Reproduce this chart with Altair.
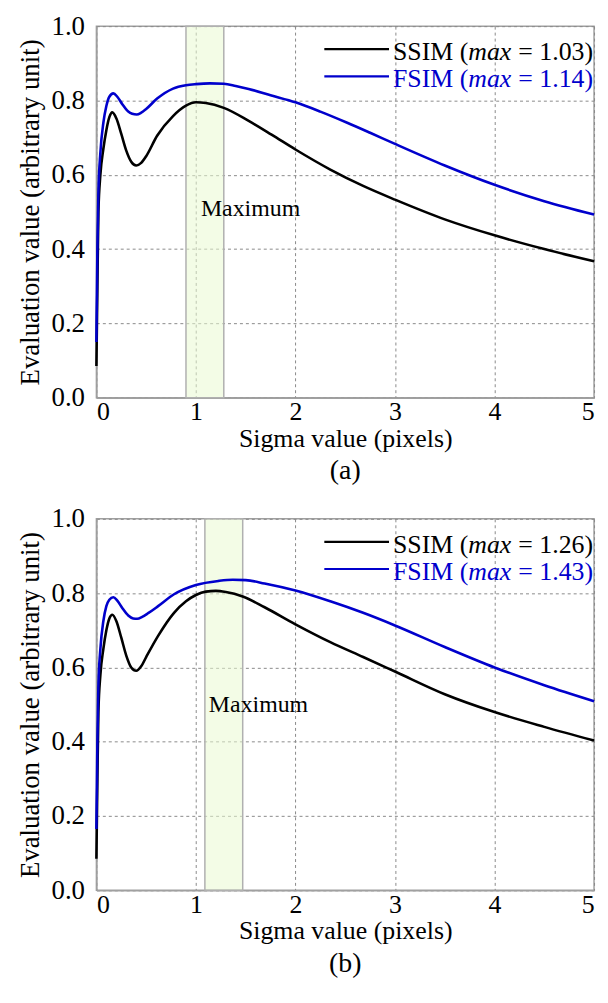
import altair as alt
import pandas as pd

FONT = "Liberation Serif"
BLUE = "#0000cc"

# ---------------- data ----------------
# Panel (a)
a_sigma_ssim = [0, 0.01, 0.02, 0.04, 0.07, 0.10, 0.13, 0.16, 0.20, 0.25, 0.30, 0.35, 0.40, 0.45, 0.50,
                0.61, 0.77, 0.90, 1.00, 1.10, 1.28, 1.53, 1.76, 2.00, 2.35, 2.68, 3.00, 3.50, 4.00, 4.50, 5.00]
a_ssim = [0.085, 0.30, 0.50, 0.60, 0.67, 0.72, 0.755, 0.768, 0.752, 0.71, 0.665, 0.635, 0.625, 0.632, 0.65,
          0.705, 0.758, 0.786, 0.795, 0.793, 0.780, 0.745, 0.708, 0.668, 0.614, 0.570, 0.533, 0.480, 0.437, 0.400, 0.367]
a_sigma_fsim = [0, 0.01, 0.02, 0.04, 0.07, 0.10, 0.13, 0.17, 0.21, 0.26, 0.32, 0.36, 0.405, 0.45, 0.50,
                0.61, 0.77, 0.90, 1.00, 1.14, 1.28, 1.40, 1.53, 1.75, 2.00, 2.25, 2.52, 2.75, 3.00, 3.50, 4.00, 4.50, 5.00]
a_fsim = [0.15, 0.40, 0.55, 0.66, 0.74, 0.785, 0.81, 0.819, 0.81, 0.79, 0.77, 0.764, 0.762, 0.767, 0.777,
          0.805, 0.832, 0.841, 0.844, 0.846, 0.845, 0.839, 0.831, 0.814, 0.795, 0.770, 0.740, 0.713, 0.683,
          0.625, 0.573, 0.529, 0.493]
a_band = [0.90, 1.28]
a_max_label = [1.05, 0.489]
a_legend = ["= 1.03)", "= 1.14)"]

# Panel (b)
b_sigma_ssim = [0, 0.01, 0.02, 0.04, 0.07, 0.10, 0.13, 0.16, 0.20, 0.25, 0.30, 0.35, 0.40, 0.45, 0.50,
                0.62, 0.78, 0.90, 1.00, 1.10, 1.20, 1.30, 1.47, 1.69, 2.00, 2.35, 2.68, 3.00, 3.50, 4.00, 4.50, 5.00]
b_ssim = [0.085, 0.30, 0.48, 0.58, 0.65, 0.70, 0.732, 0.742, 0.725, 0.68, 0.632, 0.600, 0.591, 0.603, 0.628,
          0.685, 0.747, 0.778, 0.795, 0.804, 0.806, 0.803, 0.791, 0.762, 0.716, 0.668, 0.628, 0.589, 0.528,
          0.480, 0.440, 0.403]
b_sigma_fsim = [0, 0.01, 0.02, 0.04, 0.07, 0.10, 0.13, 0.17, 0.21, 0.26, 0.32, 0.37, 0.41, 0.46, 0.52,
                0.62, 0.78, 1.00, 1.23, 1.37, 1.50, 1.69, 2.00, 2.35, 2.68, 3.00, 3.50, 4.00, 4.50, 5.00]
b_fsim = [0.165, 0.40, 0.55, 0.65, 0.725, 0.765, 0.782, 0.789, 0.78, 0.76, 0.74, 0.732, 0.731, 0.736, 0.746,
          0.765, 0.797, 0.822, 0.833, 0.836, 0.835, 0.826, 0.807, 0.778, 0.747, 0.713, 0.655, 0.600, 0.552, 0.509]
b_band = [1.09, 1.47]
b_max_label = [1.13, 0.480]
b_legend = ["= 1.26)", "= 1.43)"]

series_names = ["SSIM", "FSIM"]
series_colors = ["black", BLUE]
legend_rule_x = [2.29, 2.94]
legend_rule_y = [0.938, 0.865]
legend_text_x = 2.98
x_ticks = [0, 1, 2, 3, 4, 5]
y_ticks = [0.0, 0.2, 0.4, 0.6, 0.8, 1.0]

W, H = 501, 374
LEG_F = 26


def panel(sig_s, val_s, sig_f, val_f, band, max_label, legend_vals, caption):
    lines = pd.concat([
        pd.DataFrame({"sigma": sig_s, "value": val_s, "series": "SSIM"}),
        pd.DataFrame({"sigma": sig_f, "value": val_f, "series": "FSIM"}),
    ])
    xscale = alt.Scale(domain=[0, 5], nice=False, zero=False)
    yscale = alt.Scale(domain=[0, 1], nice=False)
    xaxis = alt.Axis(values=x_ticks, format="d", grid=True, gridDash=[3, 3], gridColor="#8a8a8a",
                     gridWidth=1, ticks=False, tickSize=0, domainColor="#a0a0a0", domainWidth=1.5,
                     labelFont=FONT, labelFontSize=26, labelColor="black", labelPadding=1,
                     titleFont=FONT, titleFontSize=26, titleFontWeight="normal", titleColor="black",
                     titlePadding=1, title="Sigma value (pixels)")
    yaxis = alt.Axis(values=y_ticks, format=".1f", grid=True, gridDash=[3, 3], gridColor="#8a8a8a",
                     gridWidth=1, ticks=False, tickSize=0, domainColor="#a0a0a0", domainWidth=1.5,
                     labelFont=FONT, labelFontSize=27, labelColor="black", labelPadding=12,
                     titleFont=FONT, titleFontSize=27, titleFontWeight="normal", titleColor="black",
                     titlePadding=7, title="Evaluation value (arbitrary unit)")
    color = alt.Color("series:N", scale=alt.Scale(domain=series_names, range=series_colors), legend=None)

    band_df = pd.DataFrame({"x0": [band[0]], "x1": [band[1]], "y0": [0.0], "y1": [1.0]})
    band_layer = alt.Chart(band_df).mark_rect(fill="#e9f9d1", fillOpacity=0.55, stroke="#b0b0b0",
                                              strokeWidth=1.5).encode(
        x=alt.X("x0:Q", scale=xscale, axis=xaxis), x2="x1:Q",
        y=alt.Y("y0:Q", scale=yscale, axis=yaxis), y2="y1:Q")

    line_layer = alt.Chart(lines).mark_line(strokeWidth=2.6, interpolate="monotone").encode(
        x=alt.X("sigma:Q", scale=xscale), y=alt.Y("value:Q", scale=yscale),
        color=color, detail="series:N", order=alt.Order("sigma:Q"))

    leg_df = pd.DataFrame({"series": series_names, "x0": [legend_rule_x[0]] * 2,
                           "x1": [legend_rule_x[1]] * 2, "y": legend_rule_y,
                           "tx": [legend_text_x] * 2,
                           "p1": ["SSIM (", "FSIM ("], "p2": ["max", "max"], "p3": legend_vals})
    leg_rule = alt.Chart(leg_df).mark_rule(strokeWidth=2.2).encode(
        x=alt.X("x0:Q", scale=xscale), x2="x1:Q", y=alt.Y("y:Q", scale=yscale), color=color)
    w1 = 2.917 * LEG_F
    w2 = 1.666 * LEG_F + 0.27 * LEG_F
    t1 = alt.Chart(leg_df).mark_text(font=FONT, fontSize=LEG_F, align="left", baseline="middle", dy=3).encode(
        x=alt.X("tx:Q", scale=xscale), y=alt.Y("y:Q", scale=yscale), text="p1:N", color=color)
    t2 = alt.Chart(leg_df).mark_text(font=FONT, fontSize=LEG_F, fontStyle="italic", align="left",
                                     baseline="middle", dy=3, dx=w1).encode(
        x=alt.X("tx:Q", scale=xscale), y=alt.Y("y:Q", scale=yscale), text="p2:N", color=color)
    t3 = alt.Chart(leg_df).mark_text(font=FONT, fontSize=LEG_F, align="left", baseline="middle",
                                     dy=3, dx=w1 + w2).encode(
        x=alt.X("tx:Q", scale=xscale), y=alt.Y("y:Q", scale=yscale), text="p3:N", color=color)

    max_df = pd.DataFrame({"x": [max_label[0]], "y": [max_label[1]], "t": ["Maximum"]})
    max_text = alt.Chart(max_df).mark_text(font=FONT, fontSize=24, align="left", baseline="alphabetic",
                                           color="black").encode(
        x=alt.X("x:Q", scale=xscale), y=alt.Y("y:Q", scale=yscale), text="t:N")

    return alt.layer(band_layer, line_layer, leg_rule, t1, t2, t3, max_text).properties(
        width=W, height=H,
        title=alt.TitleParams(caption, orient="bottom", font=FONT, fontSize=28, fontWeight="normal",
                              color="black", offset=6))


pa = panel(a_sigma_ssim, a_ssim, a_sigma_fsim, a_fsim, a_band, a_max_label, a_legend, "(a)")
pb = panel(b_sigma_ssim, b_ssim, b_sigma_fsim, b_fsim, b_band, b_max_label, b_legend, "(b)")

chart = alt.vconcat(pa, pb, spacing=18).properties(
    padding={"left": 7, "top": 0, "right": 0, "bottom": 0}
).configure_view(stroke="#a0a0a0", strokeWidth=1.5)

chart.save("out.html", embed_options={"renderer": "svg", "actions": False})
